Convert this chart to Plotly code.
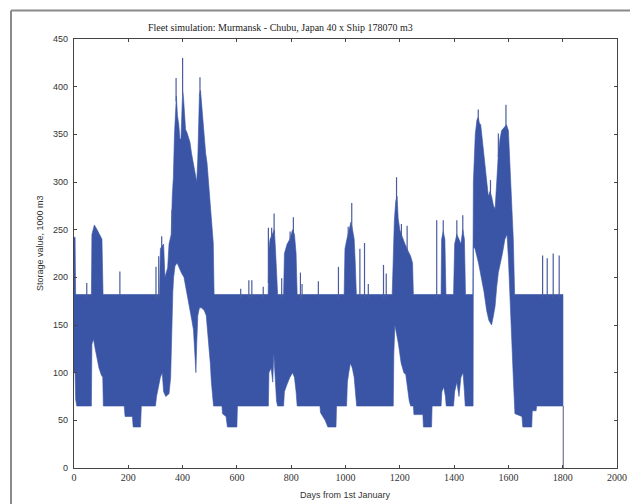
import numpy as np
import plotly.graph_objects as go

# ---- data (days from 1st January, storage 1000 m3) ----
upper_days = [0, 4, 6, 64, 66, 75, 85, 95, 103, 107,
              300, 315, 318, 330, 335, 345, 350, 358,
              362, 366, 370, 374, 377, 381, 386, 390, 394, 397, 400, 403, 406, 411, 416,
              421, 427, 433, 440, 445, 452, 456, 459, 462, 466, 470, 475, 480, 485, 490,
              495, 501, 507, 513, 516,
              715, 718, 722, 730, 738, 742, 746, 750,
              772, 775, 785, 795, 805, 812, 818, 822,
              995, 998, 1005, 1012, 1020, 1026, 1032, 1036, 1040,
              1172, 1176, 1180, 1185, 1190, 1194, 1200, 1206, 1212, 1219, 1230, 1240, 1247, 1250,
              1352, 1354, 1360, 1366, 1370,
              1398, 1402, 1410, 1418, 1425, 1432, 1438, 1442,
              1469, 1471, 1474, 1478, 1484, 1489, 1493, 1498, 1503, 1509, 1514, 1520, 1526,
              1532, 1538, 1545, 1551, 1557, 1563, 1569, 1575, 1581, 1587, 1593, 1600, 1606,
              1612, 1618, 1623, 1801]
upper_vals = [242, 242, 182, 182, 245, 255, 250, 245, 240, 182,
              182, 182, 230, 235, 200, 210, 235, 245,
              285, 305, 350, 385, 390, 370, 360, 345, 345, 370, 395, 390, 370, 355, 352,
              347, 342, 330, 320, 310, 300, 325, 360, 392, 396, 380, 360, 345, 330, 320,
              300, 275, 250, 236, 182,
              182, 230, 240, 245, 250, 230, 200, 182,
              182, 225, 235, 240, 250, 245, 225, 182,
              182, 230, 240, 250, 258, 250, 240, 215, 182,
              182, 230, 260, 280, 285, 262, 250, 245, 240, 235, 228, 222, 215, 182,
              182, 240, 248, 240, 182,
              182, 235, 245, 240, 235, 250, 240, 182,
              182, 300, 320, 350, 365, 368, 362, 360, 347, 330, 312, 295, 285,
              290, 285, 275, 272, 300, 330, 345, 354, 356, 358, 360, 354, 315,
              280, 240, 182, 182]

lower_days = [0, 4, 6, 10, 64, 66, 72, 78, 84, 92, 100, 106, 108,
              165, 170, 185, 188, 215, 218, 245, 248,
              300, 304, 310, 318, 325, 330, 338, 350, 356, 360, 364, 367, 372, 380, 388,
              395, 405, 412, 420, 428, 434, 440, 445, 449, 452, 456, 462, 470, 480, 487,
              492, 497, 502, 506, 510, 514,
              545, 547, 560, 565, 600, 602,
              716, 718, 726, 732, 736, 740, 746, 750,
              772, 775, 785, 795, 805, 812, 818, 822,
              906, 908, 915, 925, 935, 965, 967,
              1004, 1007, 1012, 1018, 1025, 1032, 1038, 1041,
              1176, 1178, 1182, 1188, 1195, 1205, 1215, 1222, 1228, 1235, 1240,
              1250, 1252, 1285, 1287, 1317, 1319,
              1352, 1355, 1362, 1368, 1371,
              1398, 1402, 1410, 1418, 1425, 1433, 1438, 1441,
              1470, 1471, 1477, 1490, 1500, 1510, 1520, 1528, 1538, 1545, 1551, 1557,
              1563, 1570, 1578, 1587, 1595, 1600, 1606, 1612, 1618, 1624,
              1650, 1653, 1686, 1688, 1702, 1704, 1801]
lower_vals = [100, 100, 72, 65, 65, 130, 135, 125, 115, 105, 98, 95, 65,
              65, 65, 65, 54, 54, 43, 43, 65,
              65, 75, 85, 95, 100, 80, 75, 78, 95, 140, 185, 200, 212, 215, 210,
              205, 200, 190, 175, 165, 155, 145, 120, 100, 130, 160, 168, 168, 165, 160,
              150, 130, 110, 90, 75, 65,
              65, 57, 54, 43, 43, 65,
              65, 100, 105, 90, 120, 95, 70, 65,
              65, 80, 88, 95, 100, 95, 80, 65,
              65, 58, 54, 50, 43, 43, 65,
              65, 90, 100, 110, 105, 95, 75, 65,
              65, 120, 150, 140, 130, 110, 100, 98, 85, 70, 65,
              65, 56, 56, 43, 43, 65,
              65, 80, 85, 75, 65,
              65, 80, 90, 75, 95, 100, 80, 65,
              65, 232, 230, 215, 200, 185, 165, 155, 150, 160, 170, 190,
              205, 215, 225, 240, 245, 220, 180, 140, 95, 57,
              54, 43, 43, 60, 60, 65, 65]

# isolated single-cycle peaks above the band
spike_days = [47, 169, 302, 312, 323, 361, 376, 400, 464, 614, 644, 655, 697, 716, 728,
              737, 765, 796, 808, 834, 840, 900, 974, 1010, 1023, 1053, 1070, 1084, 1140,
              1150, 1188, 1206, 1227, 1336, 1360, 1410, 1432, 1489, 1534, 1563, 1591,
              1726, 1743, 1765, 1787]
spike_tops = [194, 206, 211, 222, 243, 245, 409, 430, 410, 188, 197, 197, 190, 252, 252,
              267, 199, 248, 263, 205, 193, 196, 211, 253, 278, 230, 236, 193, 213,
              204, 305, 256, 254, 260, 260, 260, 265, 376, 302, 351, 381,
              223, 220, 225, 223]

end_day = 1802
end_vals = [65, 0]

title_text = "Fleet simulation: Murmansk - Chubu, Japan 40 x Ship 178070 m3"
x_title = "Days from 1st January"
y_title = "Storage value, 1000 m3"

BLUE = "#3b55a6"

fig = go.Figure()

# band between lower and upper envelopes of the fast oscillation
fig.add_trace(go.Scatter(
    x=upper_days + lower_days[::-1],
    y=upper_vals + lower_vals[::-1],
    fill="toself", fillcolor=BLUE, mode="lines",
    line=dict(color=BLUE, width=0.6), hoverinfo="skip"))

# thin spikes
sx, sy = [], []
for d, t in zip(spike_days, spike_tops):
    base = float(np.interp(d, upper_days, upper_vals)) - 4
    sx += [d, d, None]
    sy += [base, t, None]
fig.add_trace(go.Scatter(x=sx, y=sy, mode="lines",
                         line=dict(color="#4a5c9e", width=1.2), hoverinfo="skip"))

# final drop to zero
fig.add_trace(go.Scatter(x=[end_day, end_day], y=end_vals, mode="lines",
                         line=dict(color="#555a7a", width=1), hoverinfo="skip"))

axis_common = dict(showgrid=False, zeroline=False, showline=True, mirror="ticks",
                   linecolor="#444444", linewidth=1.3, ticks="inside", ticklen=3,
                   tickcolor="#444444")

# the page body adds an 8 px offset, so the figure is 8 px smaller and margins 8 px less
fig.update_layout(
    width=630, height=496,
    margin=dict(l=66, r=21, t=31, b=36),
    paper_bgcolor="white", plot_bgcolor="white",
    showlegend=False,
    xaxis=dict(range=[0, 2000], dtick=200, tick0=0,
               tickfont=dict(family="Liberation Serif", size=10, color="#333333"),
               **axis_common),
    yaxis=dict(range=[0, 450], dtick=50, tick0=0, ticklabelstandoff=3,
               tickfont=dict(family="Liberation Sans", size=9, color="#333333"),
               **axis_common),
    annotations=[
        dict(text=title_text, xref="paper", yref="paper",
             x=(280 - 74) / 543, y=(468 - 27) / 429, xanchor="center", yanchor="middle",
             showarrow=False, font=dict(family="Liberation Serif", size=10, color="#222222")),
        dict(text=x_title, xref="paper", yref="paper",
             x=0.5, y=(468 - 495) / 429, xanchor="center", yanchor="middle",
             showarrow=False, font=dict(family="Liberation Sans", size=9, color="#333333")),
        dict(text=y_title, xref="paper", yref="paper", textangle=-90,
             x=(40 - 74) / 543, y=(468 - 243) / 429, xanchor="center", yanchor="middle",
             showarrow=False, font=dict(family="Liberation Sans", size=9, color="#333333")),
    ],
    shapes=[
        dict(type="line", xref="paper", yref="paper",
             x0=(11 - 74) / 543, x1=(660 - 74) / 543,
             y0=(468 - 10.5) / 429, y1=(468 - 10.5) / 429,
             line=dict(color="#8a8a8a", width=2)),
        dict(type="line", xref="paper", yref="paper",
             x0=(11 - 74) / 543, x1=(11 - 74) / 543,
             y0=(468 - 10.5) / 429, y1=(468 - 520) / 429,
             line=dict(color="#8a8a8a", width=2)),
    ],
)

fig.write_html("out.html")
